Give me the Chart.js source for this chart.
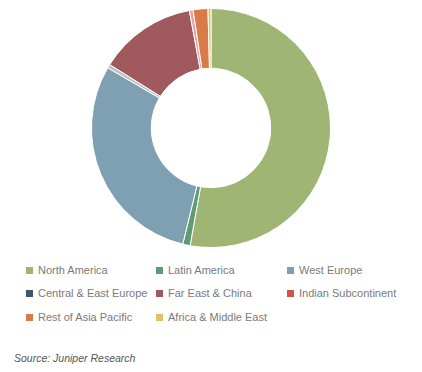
<!DOCTYPE html>
<html>
<head>
<meta charset="utf-8">
<script src="https://cdn.jsdelivr.net/npm/chart.js@4/dist/chart.umd.min.js"></script>
<style>
	body { margin: 0; background: #fff; font-family: "Liberation Sans", Arial, sans-serif; }
	#wrap { position: relative; width: 422px; height: 372px; }
	#box { position: absolute; left: 0; top: 0; width: 422px; height: 256px; }
	#legend { position: absolute; left: 26px; top: 263px; width: 396px; }
	.item { position: absolute; font-size: 11px; color: #7a7a7a; white-space: nowrap; line-height: 14px; }
	.item span { display: inline-block; width: 7px; height: 7px; margin-right: 5px; vertical-align: 0px; }
	#source { position: absolute; left: 14px; top: 352px; font-size: 10.5px; font-style: italic; color: #555; }
</style>
</head>
<body>
<div id="wrap">
	<div id="box"><canvas id="myChart"></canvas></div>
	<div id="legend"></div>
	<div id="source">Source: Juniper Research</div>
</div>
<script>
let regions = ["North America", "Latin America", "West Europe", "Central & East Europe",
	"Far East & China", "Indian Subcontinent", "Rest of Asia Pacific", "Africa & Middle East"];
let shares = [52.8, 1.0, 29.6, 0.5, 13.2, 0.5, 2.0, 0.4];
// slice colours (the thin slices look washed out in the original)
let colors = ["#9fb574", "#5f9a72", "#7f9fb2", "#b8c2c8", "#a05a5e", "#e8a0a0", "#d97b48", "#e6bd6a"];
let legendColors = ["#9fb574", "#5f9a72", "#7f9fb2", "#3f5668", "#a05a5e", "#c9584a", "#d97b48", "#e6bd6a"];

var ctx = document.getElementById("myChart");

var myChart = new Chart(ctx, {
	type: "doughnut",
	data: {
		labels: regions,
		datasets: [
			{
				data: shares,
				backgroundColor: colors,
				borderColor: "#fff",
				borderWidth: 1,
			},
		],
	},
	options: {
		responsive: true,
		maintainAspectRatio: false,
		animation: false,
		cutout: "50%",
		layout: { padding: { top: 8, bottom: 8 } },
		plugins: {
			legend: { display: false },
			tooltip: { enabled: false },
		},
	},
});

// legend laid out in 3 columns like the original
let colX = [0, 130, 261];
let rowY = [0, 23, 47];
let legend = document.getElementById("legend");
regions.forEach((name, i) => {
	let div = document.createElement("div");
	div.className = "item";
	div.style.left = colX[i % 3] + "px";
	div.style.top = rowY[Math.floor(i / 3)] + "px";
	div.innerHTML = '<span style="background:' + legendColors[i] + '"></span>' + name.replace("&", "&amp;");
	legend.appendChild(div);
});
</script>
</body>
</html>
